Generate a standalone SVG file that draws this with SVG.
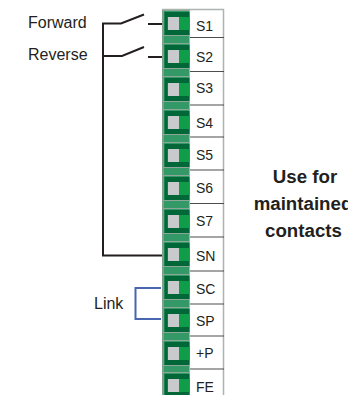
<svg xmlns="http://www.w3.org/2000/svg" width="348" height="395" viewBox="0 0 348 395">
<style>
text{font-family:"Liberation Sans",Arial,sans-serif;fill:#231f20}
.l{font-size:16px}
.t{font-size:14px}
.b{font-size:18.700px;font-weight:bold;text-anchor:middle}
.w{fill:none;stroke:#231f20;stroke-width:2}
.u{fill:none;stroke:#4a66b0;stroke-width:2}
.sep{stroke:#4d4d4f;stroke-width:1.200}
</style>
<defs>
<g id="term">
<path d="M-2 -1.500H25M-2 23.500H25" stroke="#8fa598" stroke-width="1"/>
<rect x="0" y="0" width="25" height="23" fill="#006838"/>
<rect x="3" y="5" width="22" height="13" fill="#0f9d4a"/>
<rect x="3.500" y="5" width="11" height="13" fill="#c9cacc"/>
</g>
</defs>
<rect width="348" height="395" fill="#fff"/>
<g id="strip">
<rect x="162" y="9" width="28" height="386" fill="#339966"/>
<rect x="162" y="9" width="2" height="386" fill="#7fa08c"/>
<rect x="189" y="9" width="35" height="386" fill="#fff"/>
<path d="M162.500 9.500H223.500V395" fill="none" stroke="#a9b5ad" stroke-width="1.500"/>
<path d="M189.500 9V395" fill="none" stroke="#a8b0aa" stroke-width="1"/>
</g>
<g id="connectors">
<path class="w" d="M144 14.500L121 23.500H103V255.500H162M103 56H122L144 47"/>
<path class="w" d="M148 24H162M148 57H162"/>
<path class="u" d="M161 288H135.500V319H161"/>
</g>
<g id="t-S1"><use href="#term" x="164.500" y="12"/><path class="sep" d="M190 37.500H224"/><text class="t" x="196" y="31">S1</text></g>
<g id="t-S2"><use href="#term" x="164.500" y="45"/><path class="sep" d="M190 71.500H224"/><text class="t" x="196" y="62">S2</text></g>
<g id="t-S3"><use href="#term" x="164.500" y="78"/><path class="sep" d="M190 105H224"/><text class="t" x="196" y="93">S3</text></g>
<g id="t-S4"><use href="#term" x="164.500" y="111"/><path class="sep" d="M190 137H224"/><text class="t" x="196" y="128">S4</text></g>
<g id="t-S5"><use href="#term" x="164.500" y="144"/><path class="sep" d="M190 170H224"/><text class="t" x="196" y="160">S5</text></g>
<g id="t-S6"><use href="#term" x="164.500" y="177"/><path class="sep" d="M190 203.500H224"/><text class="t" x="196" y="193">S6</text></g>
<g id="t-S7"><use href="#term" x="164.500" y="210"/><path class="sep" d="M190 237H224"/><text class="t" x="196" y="226">S7</text></g>
<g id="t-SN"><use href="#term" x="164.500" y="243"/><path class="sep" d="M190 271H224"/><text class="t" x="196" y="261">SN</text></g>
<g id="t-SC"><use href="#term" x="164.500" y="276"/><path class="sep" d="M190 304H224"/><text class="t" x="196" y="294">SC</text></g>
<g id="t-SP"><use href="#term" x="164.500" y="309"/><path class="sep" d="M190 336H224"/><text class="t" x="196" y="326">SP</text></g>
<g id="t-P"><use href="#term" x="164.500" y="342"/><path class="sep" d="M190 369H224"/><text class="t" x="196" y="358">+P</text></g>
<g id="t-FE"><use href="#term" x="164.500" y="374"/><text class="t" x="196" y="391.500">FE</text></g>
<g id="labels">
<text class="l" x="28" y="28">Forward</text>
<text class="l" x="28" y="59.500">Reverse</text>
<text class="l" x="94" y="309">Link</text>
<text class="b" x="305" y="183">Use for</text>
<text class="b" x="303" y="210">maintained</text>
<text class="b" x="303.500" y="237">contacts</text>
</g>
</svg>
